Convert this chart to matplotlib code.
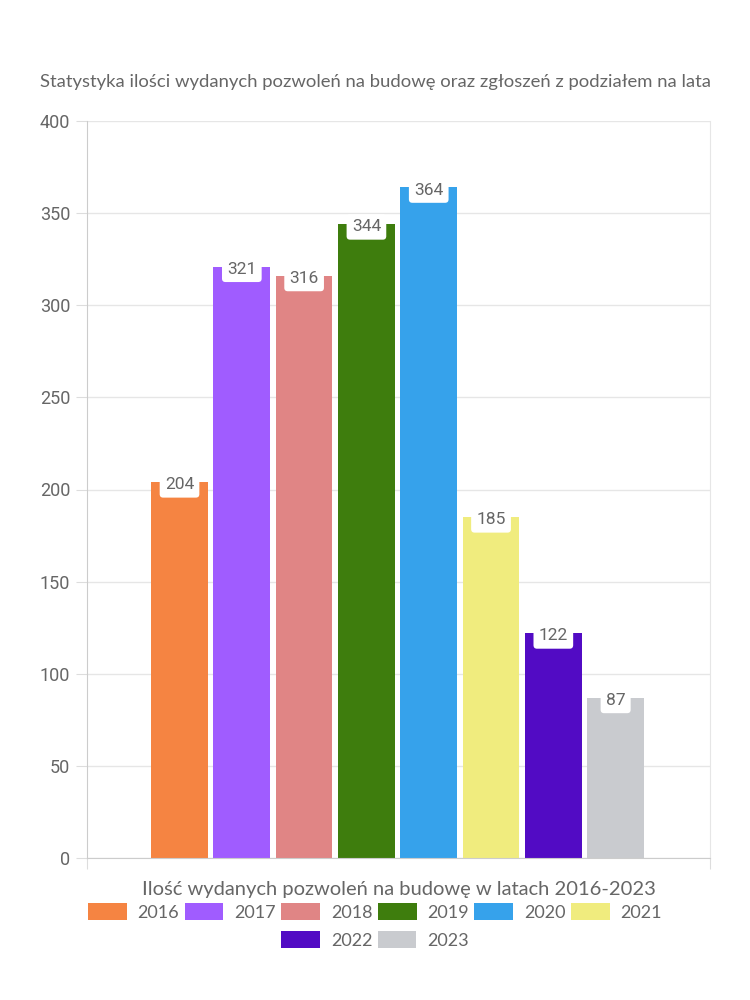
import numpy as np
import matplotlib
matplotlib.use('Agg')
import matplotlib.pyplot as plt
from matplotlib.patches import Patch

years = ['2016', '2017', '2018', '2019', '2020', '2021', '2022', '2023']
permits = [204, 321, 316, 344, 364, 185, 122, 87]
colors = ['#F58442', '#A05CFF', '#E08585', '#3E7D0D',
          '#36A2EB', '#F0EC7E', '#520BC4', '#C9CBCF']
yticks = [0, 50, 100, 150, 200, 250, 300, 350, 400]

plt.rcParams['font.family'] = ['Lato', 'DejaVu Sans']
txt_col = '#666666'

fig = plt.figure(figsize=(7.5, 10), dpi=100)
ax = fig.add_axes([0.116, 0.142, 0.8307, 0.737])

x = np.arange(len(years))
bars = ax.bar(x, permits, width=0.91, color=colors, zorder=2)

# value labels in white rounded boxes at bar tops
for xi, v in zip(x, permits):
    ax.annotate(str(v), (xi, v), xytext=(0, -2), textcoords='offset points',
                ha='center', va='center', fontsize=12.5, color=txt_col,
                family='Roboto', zorder=4,
                bbox=dict(boxstyle='round,pad=0.3,rounding_size=0.2',
                          fc='white', ec='none'))

ax.set_xlim(-1.485, 8.515)
ax.set_ylim(0, 400)
ax.set_yticks(yticks)
ax.set_yticklabels([str(t) for t in yticks], family='Roboto', fontsize=13,
                   color=txt_col)
ax.tick_params(axis='y', length=8, color='#dddddd', pad=4)
ax.set_xticks([-1.485, 8.515])
ax.set_xticklabels(['', ''])
ax.tick_params(axis='x', length=8, color='#dddddd', direction='out')
ax.grid(axis='y', color='#e6e6e6', linewidth=1, zorder=0)

ax.spines['top'].set_visible(False)
ax.spines['left'].set_color('#cccccc')
ax.spines['bottom'].set_color('#cccccc')
ax.spines['right'].set_color('#e6e6e6')

ax.set_xlabel('Ilość wydanych pozwoleń na budowę w latach 2016-2023',
              fontsize=14.5, color=txt_col, labelpad=5)

fig.text(0.5, 0.918,
         'Statystyka ilości wydanych pozwoleń na budowę oraz zgłoszeń z podziałem na lata',
         ha='center', va='center', fontsize=13.3, color=txt_col)

handles = [Patch(facecolor=c, edgecolor='none') for c in colors]
leg_kw = dict(frameon=False, fontsize=13, handlelength=2.15, handleheight=1.0,
              handletextpad=0.6, columnspacing=0.3, labelcolor=txt_col)
leg1 = fig.legend(handles[:6], years[:6], ncol=6, loc='center',
                  bbox_to_anchor=(0.5, 0.088), **leg_kw)
leg2 = fig.legend(handles[6:], years[6:], ncol=2, loc='center',
                  bbox_to_anchor=(0.5, 0.060), **leg_kw)

fig.savefig('out.png', dpi=100, facecolor='white')
